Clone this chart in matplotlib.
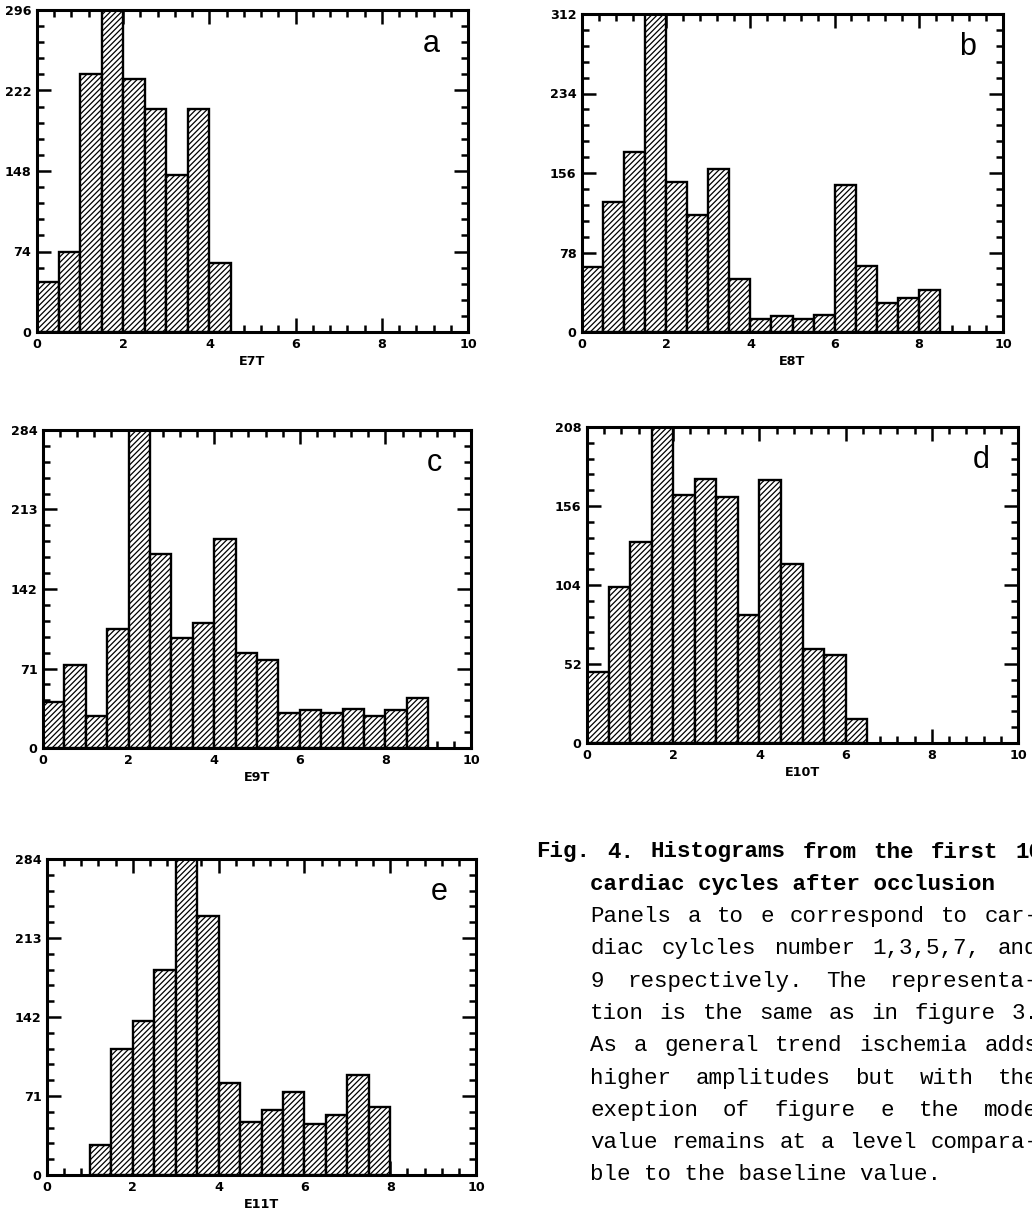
import matplotlib
matplotlib.use("Agg")
import matplotlib.pyplot as plt
from matplotlib.ticker import MultipleLocator
from matplotlib.font_manager import FontProperties
import numpy as np

# ---- data: histogram counts per 0.5-wide amplitude bin ----
BIN_WIDTH = 0.5

a_start = 0.0
a_counts = [46, 74, 237, 296, 233, 205, 144, 205, 63]

b_start = 0.0
b_counts = [64, 128, 177, 312, 147, 115, 160, 52, 13, 16, 13, 17, 144, 65, 28, 33, 41]

c_start = 0.0
c_counts = [41, 74, 29, 106, 284, 173, 98, 112, 187, 85, 79, 31, 34, 31, 35, 29, 34, 45]

d_start = 0.0
d_counts = [47, 103, 132, 208, 163, 174, 162, 84, 173, 118, 62, 58, 16]

e_start = 1.0
e_counts = [27, 113, 138, 184, 284, 233, 83, 48, 58, 75, 46, 54, 90, 61]

panel_letters = ["a", "b", "c", "d", "e"]
x_labels = ["E7T", "E8T", "E9T", "E10T", "E11T"]
y_maxima = [296, 312, 284, 208, 284]

caption_title = ["Fig. 4. Histograms from the first 10",
                 "cardiac cycles after occlusion"]
caption_body = ["Panels a to e correspond to car-",
                "diac cylcles number 1,3,5,7, and",
                "9 respectively. The representa-",
                "tion is the same as in figure 3.",
                "As a general trend ischemia adds",
                "higher amplitudes but with the",
                "exeption of figure e the mode",
                "value remains at a level compara-",
                "ble to the baseline value."]

# ---- layout (pixel boxes: left, top, right, bottom) ----
W, H = 1032, 1212
DPI = 100
boxes = [(37, 10, 468, 332),
         (582, 14, 1003, 332),
         (43, 430, 471, 748),
         (587, 427, 1018, 743),
         (47, 859, 476, 1175)]

plt.rcParams["hatch.linewidth"] = 0.9
plt.rcParams["hatch.color"] = "black"

fig = plt.figure(figsize=(W / DPI, H / DPI), dpi=DPI)
fig.patch.set_facecolor("white")

series = [(a_start, a_counts), (b_start, b_counts), (c_start, c_counts),
          (d_start, d_counts), (e_start, e_counts)]

tick_font = dict(family="DejaVu Sans", weight="bold", size=9.2)

for (l, t, r, b), (start, counts), letter, xl, ymax in zip(
        boxes, series, panel_letters, x_labels, y_maxima):
    ax = fig.add_axes([l / W, 1 - b / H, (r - l) / W, (b - t) / H])
    lefts = start + BIN_WIDTH * np.arange(len(counts))
    ax.bar(lefts, counts, width=BIN_WIDTH, align="edge", color="white",
           edgecolor="black", linewidth=1.7, hatch="//////", zorder=2)
    ax.set_xlim(0, 10)
    ax.set_ylim(0, ymax)
    ax.xaxis.set_major_locator(MultipleLocator(2))
    ax.xaxis.set_minor_locator(MultipleLocator(0.4))
    yt = np.linspace(0, ymax, 5)
    ax.set_yticks(yt)
    ax.yaxis.set_minor_locator(MultipleLocator(ymax / 20))
    ax.set_yticklabels([f"{v:.0f}" for v in yt])
    ax.tick_params(which="both", direction="in", top=True, right=True,
                   width=1.8, color="black")
    ax.tick_params(which="major", length=10, pad=4)
    ax.tick_params(which="minor", length=5)
    for lab in ax.get_xticklabels() + ax.get_yticklabels():
        lab.set_fontproperties(FontProperties(**tick_font))
    for sp in ax.spines.values():
        sp.set_linewidth(2.2)
    ax.set_xlabel(xl, fontdict=tick_font, labelpad=3)
    ax.text(0.915, 0.895, letter, transform=ax.transAxes, ha="center",
            va="center", fontsize=22, family="Liberation Sans")

# ---- caption ----
FS = 16.2
cw = 0.6 * FS * DPI / 72.0          # monospace advance in pixels
x_body = 590
line_h = 32.3
y0 = 852


def put_line(text, x, y, bold=False, width_chars=None):
    weight = "bold" if bold else "normal"
    if width_chars is None:
        fig.text(x / W, 1 - y / H, text, family="Liberation Mono",
                 fontsize=FS, weight=weight, ha="left", va="center")
        return
    words = text.split()
    n_chars = sum(len(w) for w in words)
    gap = (width_chars - n_chars) * cw / (len(words) - 1)
    xx = x
    for w in words:
        fig.text(xx / W, 1 - y / H, w, family="Liberation Mono",
                 fontsize=FS, weight=weight, ha="left", va="center")
        xx += len(w) * cw + gap


put_line(caption_title[0], x_body - 4 * cw, y0, bold=True, width_chars=37.5)
put_line(caption_title[1], x_body, y0 + line_h, bold=True)
for i, line in enumerate(caption_body):
    y = y0 + (i + 2) * line_h
    if i == len(caption_body) - 1:
        put_line(line, x_body, y)
    else:
        put_line(line, x_body, y, width_chars=33.2)

fig.savefig("out.png", dpi=DPI, facecolor="white")
